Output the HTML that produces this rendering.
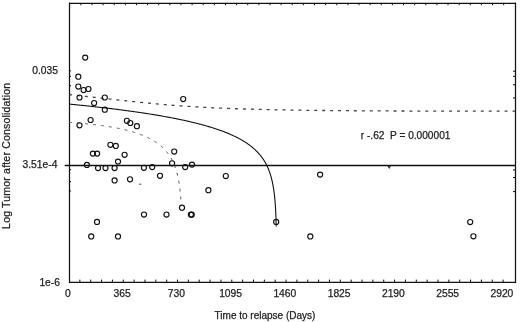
<!DOCTYPE html>
<html><head><meta charset="utf-8"><style>
html,body{margin:0;padding:0;background:#fff;}
svg{display:block;will-change:transform;}
text{font-family:"Liberation Sans",sans-serif;font-size:10.3px;fill:#222;stroke:#222;stroke-width:0.25px;white-space:pre;}
</style></head><body>
<svg width="520" height="322" viewBox="0 0 520 322">
<rect x="0" y="0" width="520" height="322" fill="#fff"/>
<g fill="none" stroke="#111">
<path d="M79.85 282v-2.4M90.71 282v-2.4M101.56 282v-2.4M112.41 282v-2.4M123.26 282v-2.4M134.12 282v-2.4M144.97 282v-2.4M155.82 282v-2.4M166.67 282v-2.4M177.53 282v-2.4M188.38 282v-2.4M199.23 282v-2.4M210.08 282v-2.4M220.94 282v-2.4M231.79 282v-2.4M242.64 282v-2.4M253.5 282v-2.4M264.35 282v-2.4M275.2 282v-2.4M286.05 282v-2.4M296.91 282v-2.4M307.76 282v-2.4M318.61 282v-2.4M329.46 282v-2.4M340.32 282v-2.4M351.17 282v-2.4M362.02 282v-2.4M372.87 282v-2.4M383.73 282v-2.4M394.58 282v-2.4M405.43 282v-2.4M416.29 282v-2.4M427.14 282v-2.4M437.99 282v-2.4M448.84 282v-2.4M459.7 282v-2.4M470.55 282v-2.4M481.4 282v-2.4M492.25 282v-2.4M503.11 282v-2.4M80.81 3v2.2M91.94 3v2.2M103.07 3v2.2M114.19 3v2.2M125.32 3v2.2M136.45 3v2.2M147.58 3v2.2M158.71 3v2.2M169.83 3v2.2M180.96 3v2.2M192.09 3v2.2M203.22 3v2.2M214.35 3v2.2M225.47 3v2.2M236.6 3v2.2M247.73 3v2.2M258.86 3v2.2M269.99 3v2.2M281.11 3v2.2M292.24 3v2.2M303.37 3v2.2M314.5 3v2.2M325.63 3v2.2M336.75 3v2.2M347.88 3v2.2M359.01 3v2.2M370.14 3v2.2M381.27 3v2.2M392.39 3v2.2M403.52 3v2.2M414.65 3v2.2M425.78 3v2.2M436.91 3v2.2M448.03 3v2.2M459.16 3v2.2M470.29 3v2.2M481.42 3v2.2M492.55 3v2.2M503.67 3v2.2M69 70.8h2M69 76.4h2M69 85.7h2M69 94.4h2M69 169.7h2M69 181.6h2M69 191h2M515 71.2h-2M515 76.3h-2M515 84.8h-2M515 98h-2M515 170h-2M515 177.6h-2M515 191.6h-2" stroke-width="1"/>
<path d="M69.5 2.6V282.7M68.9 3.3H516.1M515.5 2.6V282.7M68.9 282.3H516.1" stroke-width="1.25"/>
<path d="M64.7 165.5H515" stroke-width="1.6"/>
<path d="M69.00 104.07 L69.74 104.14 L70.49 104.21 L71.23 104.28 L71.97 104.36 L72.72 104.43 L73.46 104.50 L74.20 104.58 L74.95 104.65 L75.69 104.73 L76.43 104.80 L77.18 104.88 L77.92 104.95 L78.66 105.03 L79.41 105.10 L80.15 105.18 L80.89 105.26 L81.64 105.33 L82.38 105.41 L83.12 105.49 L83.87 105.57 L84.61 105.64 L85.35 105.72 L86.10 105.80 L86.84 105.88 L87.58 105.96 L88.33 106.04 L89.07 106.12 L89.81 106.20 L90.56 106.28 L91.30 106.36 L92.04 106.44 L92.79 106.52 L93.53 106.60 L94.27 106.69 L95.02 106.77 L95.76 106.85 L96.50 106.93 L97.25 107.02 L97.99 107.10 L98.73 107.19 L99.48 107.27 L100.22 107.36 L100.96 107.44 L101.71 107.53 L102.45 107.61 L103.19 107.70 L103.94 107.79 L104.68 107.87 L105.42 107.96 L106.17 108.05 L106.91 108.14 L107.65 108.22 L108.40 108.31 L109.14 108.40 L109.88 108.49 L110.63 108.58 L111.37 108.67 L112.11 108.76 L112.86 108.86 L113.60 108.95 L114.34 109.04 L115.09 109.13 L115.83 109.23 L116.57 109.32 L117.32 109.41 L118.06 109.51 L118.80 109.60 L119.55 109.70 L120.29 109.79 L121.03 109.89 L121.78 109.99 L122.52 110.08 L123.26 110.18 L124.01 110.28 L124.75 110.38 L125.49 110.48 L126.24 110.58 L126.98 110.68 L127.72 110.78 L128.47 110.88 L129.21 110.98 L129.95 111.08 L130.70 111.18 L131.44 111.29 L132.18 111.39 L132.93 111.49 L133.67 111.60 L134.41 111.70 L135.16 111.81 L135.90 111.92 L136.64 112.02 L137.39 112.13 L138.13 112.24 L138.87 112.35 L139.62 112.46 L140.36 112.57 L141.10 112.68 L141.85 112.79 L142.59 112.90 L143.33 113.01 L144.08 113.12 L144.82 113.24 L145.56 113.35 L146.31 113.47 L147.05 113.58 L147.79 113.70 L148.54 113.81 L149.28 113.93 L150.02 114.05 L150.77 114.17 L151.51 114.29 L152.25 114.41 L153.00 114.53 L153.74 114.65 L154.48 114.77 L155.23 114.90 L155.97 115.02 L156.71 115.15 L157.46 115.27 L158.20 115.40 L158.94 115.52 L159.69 115.65 L160.43 115.78 L161.17 115.91 L161.92 116.04 L162.66 116.17 L163.40 116.30 L164.15 116.44 L164.89 116.57 L165.63 116.71 L166.38 116.84 L167.12 116.98 L167.86 117.12 L168.61 117.25 L169.35 117.39 L170.09 117.53 L170.84 117.67 L171.58 117.82 L172.32 117.96 L173.07 118.10 L173.81 118.25 L174.55 118.40 L175.30 118.54 L176.04 118.69 L176.78 118.84 L177.53 118.99 L178.27 119.14 L179.01 119.30 L179.76 119.45 L180.50 119.61 L181.24 119.76 L181.99 119.92 L182.73 120.08 L183.47 120.24 L184.22 120.40 L184.96 120.57 L185.70 120.73 L186.45 120.90 L187.19 121.06 L187.93 121.23 L188.68 121.40 L189.42 121.57 L190.16 121.74 L190.91 121.92 L191.65 122.09 L192.39 122.27 L193.14 122.45 L193.88 122.63 L194.62 122.81 L195.37 123.00 L196.11 123.18 L196.85 123.37 L197.60 123.56 L198.34 123.75 L199.08 123.94 L199.83 124.13 L200.57 124.33 L201.31 124.53 L202.06 124.73 L202.80 124.93 L203.54 125.14 L204.29 125.34 L205.03 125.55 L205.77 125.76 L206.52 125.97 L207.26 126.19 L208.00 126.40 L208.75 126.62 L209.49 126.85 L210.23 127.07 L210.98 127.30 L211.72 127.53 L212.46 127.76 L213.21 127.99 L213.95 128.23 L214.69 128.47 L215.44 128.72 L216.18 128.96 L216.92 129.21 L217.67 129.47 L218.41 129.72 L219.15 129.98 L219.90 130.24 L220.64 130.51 L221.38 130.78 L222.13 131.05 L222.87 131.33 L223.61 131.61 L224.36 131.89 L225.10 132.18 L225.84 132.47 L226.59 132.77 L227.33 133.07 L228.07 133.38 L228.82 133.69 L229.56 134.01 L230.30 134.33 L231.05 134.65 L231.79 134.98 L232.53 135.32 L233.28 135.66 L234.02 136.01 L234.76 136.37 L235.51 136.73 L236.25 137.10 L236.99 137.47 L237.74 137.85 L238.48 138.24 L239.22 138.64 L239.97 139.04 L240.71 139.45 L241.45 139.87 L242.20 140.30 L242.94 140.74 L243.68 141.19 L244.43 141.65 L245.17 142.12 L245.76 142.51 L246.36 142.90 L246.95 143.30 L247.55 143.71 L248.14 144.12 L248.74 144.55 L249.33 144.98 L249.93 145.42 L250.52 145.88 L251.12 146.34 L251.71 146.81 L252.31 147.30 L252.90 147.80 L253.50 148.31 L254.09 148.83 L254.68 149.37 L255.28 149.92 L255.87 150.49 L256.47 151.07 L257.06 151.68 L257.66 152.30 L258.25 152.94 L258.85 153.60 L259.44 154.28 L260.04 154.99 L260.63 155.72 L261.08 156.29 L261.52 156.87 L261.97 157.47 L262.42 158.09 L262.86 158.73 L263.31 159.39 L263.75 160.07 L264.20 160.78 L264.65 161.51 L265.09 162.27 L265.54 163.06 L265.98 163.88 L266.43 164.74 L266.88 165.63 L267.32 166.57 L267.62 167.22 L267.92 167.89 L268.21 168.58 L268.51 169.30 L268.81 170.05 L269.11 170.82 L269.40 171.62 L269.70 172.46 L270.00 173.33 L270.29 174.25 L270.59 175.20 L270.89 176.21 L271.19 177.26 L271.48 178.38 L271.78 179.55 L272.08 180.81 L272.38 182.14 L272.52 182.85 L272.67 183.57 L272.82 184.33 L272.97 185.11 L273.12 185.93 L273.27 186.78 L273.42 187.67 L273.57 188.59 L273.71 189.57 L273.86 190.59 L274.01 191.67 L274.16 192.80 L274.31 194.01 L274.46 195.29 L274.61 196.66 L274.75 198.13 L274.90 199.71 L275.05 201.43 L275.20 203.31 L275.35 205.38 L275.50 207.69 L275.65 210.30 L275.80 213.29 L275.94 216.81 L276.09 221.07 L276.24 226.48" stroke-width="1.1"/>
<path d="M69.00 94.62 L69.74 94.70 L70.49 94.78 L71.23 94.86 L71.97 94.93 L72.72 95.01 L73.46 95.09 L74.20 95.17 L74.95 95.25 L75.69 95.33 L76.43 95.41 L77.18 95.49 L77.92 95.56 L78.66 95.64 L79.41 95.72 L80.15 95.80 L80.89 95.88 L81.64 95.96 L82.38 96.04 L83.12 96.12 L83.87 96.20 L84.61 96.28 L85.35 96.36 L86.10 96.44 L86.84 96.52 L87.58 96.60 L88.33 96.69 L89.07 96.77 L89.81 96.85 L90.56 96.93 L91.30 97.01 L92.04 97.09 L92.79 97.17 L93.53 97.25 L94.27 97.33 L95.02 97.42 L95.76 97.50 L96.50 97.58 L97.25 97.66 L97.99 97.74 L98.73 97.82 L99.48 97.91 L100.22 97.99 L100.96 98.07 L101.71 98.15 L102.45 98.23 L103.19 98.32 L103.94 98.40 L104.68 98.48 L105.42 98.56 L106.17 98.64 L106.91 98.73 L107.65 98.81 L108.40 98.89 L109.14 98.97 L109.88 99.05 L110.63 99.14 L111.37 99.22 L112.11 99.30 L112.86 99.38 L113.60 99.46 L114.34 99.54 L115.09 99.63 L115.83 99.71 L116.57 99.79 L117.32 99.87 L118.06 99.95 L118.80 100.03 L119.55 100.11 L120.29 100.19 L121.03 100.27 L121.78 100.36 L122.52 100.44 L123.26 100.52 L124.01 100.60 L124.75 100.68 L125.49 100.76 L126.24 100.84 L126.98 100.92 L127.72 101.00 L128.47 101.08 L129.21 101.16 L129.95 101.23 L130.70 101.31 L131.44 101.39 L132.18 101.47 L132.93 101.55 L133.67 101.63 L134.41 101.70 L135.16 101.78 L135.90 101.86 L136.64 101.94 L137.39 102.01 L138.13 102.09 L138.87 102.17 L139.62 102.24 L140.36 102.32 L141.10 102.39 L141.85 102.47 L142.59 102.54 L143.33 102.62 L144.08 102.69 L144.82 102.76 L145.56 102.84 L146.31 102.91 L147.05 102.98 L147.79 103.06 L148.54 103.13 L149.28 103.20 L150.02 103.27 L150.77 103.34 L151.51 103.41 L152.25 103.48 L153.00 103.55 L153.74 103.62 L154.48 103.69 L155.23 103.76 L155.97 103.83 L156.71 103.90 L157.46 103.97 L158.20 104.03 L158.94 104.10 L159.69 104.17 L160.43 104.23 L161.17 104.30 L161.92 104.36 L162.66 104.43 L163.40 104.49 L164.15 104.56 L164.89 104.62 L165.63 104.68 L166.38 104.74 L167.12 104.81 L167.86 104.87 L168.61 104.93 L169.35 104.99 L170.09 105.05 L170.84 105.11 L171.58 105.17 L172.32 105.23 L173.07 105.29 L173.81 105.35 L174.55 105.40 L175.30 105.46 L176.04 105.52 L176.78 105.57 L177.53 105.63 L178.27 105.68 L179.01 105.74 L179.76 105.79 L180.50 105.85 L181.24 105.90 L181.99 105.95 L182.73 106.01 L183.47 106.06 L184.22 106.11 L184.96 106.16 L185.70 106.21 L186.45 106.26 L187.19 106.31 L187.93 106.36 L188.68 106.41 L189.42 106.46 L190.16 106.51 L190.91 106.55 L191.65 106.60 L192.39 106.65 L193.14 106.69 L193.88 106.74 L194.62 106.79 L195.37 106.83 L196.11 106.88 L196.85 106.92 L197.60 106.96 L198.34 107.01 L199.08 107.05 L199.83 107.09 L200.57 107.13 L201.31 107.18 L202.06 107.22 L202.80 107.26 L203.54 107.30 L204.29 107.34 L205.03 107.38 L205.77 107.42 L206.52 107.46 L207.26 107.49 L208.00 107.53 L208.75 107.57 L209.49 107.61 L210.23 107.64 L210.98 107.68 L211.72 107.72 L212.46 107.75 L213.21 107.79 L213.95 107.82 L214.69 107.86 L215.44 107.89 L216.18 107.93 L216.92 107.96 L217.67 107.99 L218.41 108.03 L219.15 108.06 L219.90 108.09 L220.64 108.13 L221.38 108.16 L222.13 108.19 L222.87 108.22 L223.61 108.25 L224.36 108.28 L225.10 108.31 L225.84 108.34 L226.59 108.37 L227.33 108.40 L228.07 108.43 L228.82 108.46 L229.56 108.49 L230.30 108.51 L231.05 108.54 L231.79 108.57 L232.53 108.60 L233.28 108.62 L234.02 108.65 L234.76 108.68 L235.51 108.70 L236.25 108.73 L236.99 108.75 L237.74 108.78 L238.48 108.80 L239.22 108.83 L239.97 108.85 L240.71 108.88 L241.45 108.90 L242.20 108.93 L242.94 108.95 L243.68 108.97 L244.43 109.00 L245.17 109.02 L245.91 109.04 L246.66 109.06 L247.40 109.09 L248.14 109.11 L248.89 109.13 L249.63 109.15 L250.37 109.17 L251.12 109.19 L251.86 109.21 L252.60 109.23 L253.35 109.25 L254.09 109.27 L254.83 109.29 L255.58 109.31 L256.32 109.33 L257.06 109.35 L257.81 109.37 L258.55 109.39 L259.29 109.41 L260.04 109.43 L260.78 109.45 L261.52 109.47 L262.27 109.48 L263.01 109.50 L263.75 109.52 L264.50 109.54 L265.24 109.55 L265.98 109.57 L266.73 109.59 L267.47 109.61 L268.21 109.62 L268.96 109.64 L269.70 109.65 L270.44 109.67 L271.19 109.69 L271.93 109.70 L272.67 109.72 L273.42 109.73 L274.16 109.75 L274.90 109.76 L275.65 109.78 L276.39 109.79 L277.13 109.81 L277.88 109.82 L278.62 109.84 L279.36 109.85 L280.11 109.87 L280.85 109.88 L281.59 109.89 L282.34 109.91 L283.08 109.92 L283.82 109.94 L284.57 109.95 L285.31 109.96 L286.05 109.98 L286.80 109.99 L287.54 110.00 L288.28 110.01 L289.03 110.03 L289.77 110.04 L290.51 110.05 L291.26 110.06 L292.00 110.08 L292.74 110.09 L293.49 110.10 L294.23 110.11 L294.97 110.12 L295.72 110.13 L296.46 110.15 L297.20 110.16 L297.95 110.17 L298.69 110.18 L299.43 110.19 L300.18 110.20 L300.92 110.21 L301.66 110.22 L302.41 110.23 L303.15 110.24 L303.89 110.25 L304.64 110.26 L305.38 110.27 L306.12 110.29 L306.87 110.30 L307.61 110.30 L308.35 110.31 L309.10 110.32 L309.84 110.33 L310.58 110.34 L311.33 110.35 L312.07 110.36 L312.81 110.37 L313.56 110.38 L314.30 110.39 L315.04 110.40 L315.79 110.41 L316.53 110.42 L317.27 110.42 L318.02 110.43 L318.76 110.44 L319.50 110.45 L320.25 110.46 L320.99 110.47 L321.73 110.48 L322.48 110.48 L323.22 110.49 L323.96 110.50 L324.71 110.51 L325.45 110.51 L326.19 110.52 L326.94 110.53 L327.68 110.54 L328.42 110.55 L329.17 110.55 L329.91 110.56 L330.65 110.57 L331.40 110.57 L332.14 110.58 L332.88 110.59 L333.63 110.60 L334.37 110.60 L335.11 110.61 L335.86 110.62 L336.60 110.62 L337.34 110.63 L338.09 110.64 L338.83 110.64 L339.57 110.65 L340.32 110.66 L341.06 110.66 L341.80 110.67 L342.55 110.68 L343.29 110.68 L344.03 110.69 L344.78 110.69 L345.52 110.70 L346.26 110.71 L347.01 110.71 L347.75 110.72 L348.49 110.72 L349.24 110.73 L349.98 110.73 L350.72 110.74 L351.47 110.75 L352.21 110.75 L352.95 110.76 L353.70 110.76 L354.44 110.77 L355.18 110.77 L355.93 110.78 L356.67 110.78 L357.41 110.79 L358.16 110.79 L358.90 110.80 L359.64 110.80 L360.39 110.81 L361.13 110.81 L361.87 110.82 L362.62 110.82 L363.36 110.83 L364.10 110.83 L364.85 110.84 L365.59 110.84 L366.33 110.85 L367.08 110.85 L367.82 110.85 L368.56 110.86 L369.31 110.86 L370.05 110.87 L370.79 110.87 L371.54 110.88 L372.28 110.88 L373.02 110.88 L373.77 110.89 L374.51 110.89 L375.25 110.90 L376.00 110.90 L376.74 110.90 L377.48 110.91 L378.23 110.91 L378.97 110.92 L379.71 110.92 L380.46 110.92 L381.20 110.93 L381.94 110.93 L382.69 110.93 L383.43 110.94 L384.17 110.94 L384.92 110.94 L385.66 110.95 L386.40 110.95 L387.15 110.95 L387.89 110.96 L388.63 110.96 L389.38 110.96 L390.12 110.97 L390.86 110.97 L391.61 110.97 L392.35 110.98 L393.09 110.98 L393.84 110.98 L394.58 110.99 L395.32 110.99 L396.07 110.99 L396.81 110.99 L397.55 111.00 L398.30 111.00 L399.04 111.00 L399.78 111.01 L400.53 111.01 L401.27 111.01 L402.01 111.01 L402.76 111.02 L403.50 111.02 L404.24 111.02 L404.99 111.02 L405.73 111.03 L406.47 111.03 L407.22 111.03 L407.96 111.03 L408.70 111.04 L409.45 111.04 L410.19 111.04 L410.93 111.04 L411.68 111.05 L412.42 111.05 L413.16 111.05 L413.91 111.05 L414.65 111.06 L415.39 111.06 L416.14 111.06 L416.88 111.06 L417.62 111.06 L418.37 111.07 L419.11 111.07 L419.85 111.07 L420.60 111.07 L421.34 111.07 L422.08 111.08 L422.83 111.08 L423.57 111.08 L424.31 111.08 L425.06 111.08 L425.80 111.08 L426.54 111.09 L427.29 111.09 L428.03 111.09 L428.77 111.09 L429.52 111.09 L430.26 111.09 L431.00 111.10 L431.75 111.10 L432.49 111.10 L433.23 111.10 L433.98 111.10 L434.72 111.10 L435.46 111.11 L436.21 111.11 L436.95 111.11 L437.69 111.11 L438.44 111.11 L439.18 111.11 L439.92 111.11 L440.67 111.12 L441.41 111.12 L442.15 111.12 L442.90 111.12 L443.64 111.12 L444.38 111.12 L445.13 111.12 L445.87 111.12 L446.61 111.13 L447.36 111.13 L448.10 111.13 L448.84 111.13 L449.59 111.13 L450.33 111.13 L451.07 111.13 L451.82 111.13 L452.56 111.13 L453.30 111.13 L454.05 111.14 L454.79 111.14 L455.53 111.14 L456.28 111.14 L457.02 111.14 L457.76 111.14 L458.51 111.14 L459.25 111.14 L459.99 111.14 L460.74 111.14 L461.48 111.14 L462.22 111.15 L462.97 111.15 L463.71 111.15 L464.45 111.15 L465.20 111.15 L465.94 111.15 L466.68 111.15 L467.43 111.15 L468.17 111.15 L468.91 111.15 L469.66 111.15 L470.40 111.15 L471.14 111.15 L471.89 111.15 L472.63 111.15 L473.37 111.15 L474.12 111.15 L474.86 111.16 L475.60 111.16 L476.35 111.16 L477.09 111.16 L477.83 111.16 L478.58 111.16 L479.32 111.16 L480.06 111.16 L480.81 111.16 L481.55 111.16 L482.29 111.16 L483.04 111.16 L483.78 111.16 L484.52 111.16 L485.27 111.16 L486.01 111.16 L486.75 111.16 L487.50 111.16 L488.24 111.16 L488.98 111.16 L489.73 111.16 L490.47 111.16 L491.21 111.16 L491.96 111.16 L492.70 111.16 L493.44 111.16 L494.19 111.16 L494.93 111.16 L495.67 111.16 L496.42 111.16 L497.16 111.16 L497.90 111.16 L498.65 111.16 L499.39 111.16 L500.13 111.16 L500.88 111.16 L501.62 111.16 L502.36 111.16 L503.11 111.16 L503.85 111.16 L504.59 111.16 L505.34 111.16 L506.08 111.16 L506.82 111.16 L507.57 111.16 L508.31 111.16 L509.05 111.16 L509.80 111.16 L510.54 111.16 L511.28 111.16 L512.03 111.16 L512.77 111.16 L513.51 111.16 L514.26 111.16 L515.00 111.16" stroke="#444" stroke-width="1.3" stroke-dasharray="3 4.930" stroke-dashoffset="7.840"/>
<path d="M69.00 122.38 L69.74 122.43 L70.49 122.48 L71.23 122.54 L71.97 122.59 L72.72 122.64 L73.46 122.70 L74.20 122.76 L74.95 122.81 L75.69 122.87 L76.43 122.93 L77.18 122.99 L77.92 123.05 L78.66 123.11 L79.41 123.17 L80.15 123.24 L80.89 123.30 L81.64 123.37 L82.38 123.43 L83.12 123.50 L83.87 123.57 L84.61 123.64 L85.35 123.71 L86.10 123.78 L86.84 123.85 L87.58 123.92 L88.33 124.00 L89.07 124.07 L89.81 124.15 L90.56 124.23 L91.30 124.31 L92.04 124.39 L92.79 124.47 L93.53 124.56 L94.27 124.64 L95.02 124.73 L95.76 124.81 L96.50 124.90 L97.25 124.99 L97.99 125.09 L98.73 125.18 L99.48 125.27 L100.22 125.37 L100.96 125.47 L101.71 125.57 L102.45 125.67 L103.19 125.77 L103.94 125.88 L104.68 125.99 L105.42 126.10 L106.17 126.21 L106.91 126.32 L107.65 126.43 L108.40 126.55 L109.14 126.67 L109.88 126.79 L110.63 126.91 L111.37 127.04 L112.11 127.17 L112.86 127.29 L113.60 127.43 L114.34 127.56 L115.09 127.70 L115.83 127.84 L116.57 127.98 L117.32 128.13 L118.06 128.27 L118.80 128.42 L119.55 128.58 L120.29 128.73 L121.03 128.89 L121.78 129.06 L122.52 129.22 L123.26 129.39 L124.01 129.56 L124.75 129.74 L125.49 129.92 L126.24 130.10 L126.98 130.29 L127.72 130.48 L128.47 130.67 L129.21 130.87 L129.95 131.07 L130.70 131.28 L131.44 131.49 L132.18 131.71 L132.93 131.93 L133.67 132.15 L134.41 132.38 L135.16 132.62 L135.90 132.86 L136.64 133.10 L137.39 133.36 L138.13 133.61 L138.87 133.88 L139.62 134.15 L140.36 134.42 L141.10 134.71 L141.85 135.00 L142.59 135.29 L143.33 135.60 L144.08 135.91 L144.82 136.23 L145.56 136.56 L146.31 136.89 L147.05 137.24 L147.79 137.60 L148.54 137.96 L149.28 138.34 L150.02 138.72 L150.77 139.12 L151.51 139.53 L152.25 139.95 L153.00 140.38 L153.74 140.83 L154.48 141.29 L155.23 141.77 L155.82 142.16 L156.42 142.56 L157.01 142.98 L157.61 143.40 L158.20 143.84 L158.79 144.29 L159.39 144.75 L159.98 145.23 L160.58 145.72 L161.17 146.23 L161.77 146.76 L162.36 147.30 L162.96 147.86 L163.55 148.44 L164.15 149.04 L164.74 149.66 L165.34 150.31 L165.93 150.98 L166.53 151.68 L167.12 152.41 L167.57 152.97 L168.01 153.56 L168.46 154.17 L168.90 154.79 L169.35 155.44 L169.80 156.12 L170.24 156.82 L170.69 157.55 L171.13 158.31 L171.58 159.10 L172.03 159.93 L172.47 160.80 L172.92 161.71 L173.36 162.67 L173.66 163.34 L173.96 164.03 L174.26 164.74 L174.55 165.49 L174.85 166.27 L175.15 167.08 L175.45 167.92 L175.74 168.81 L176.04 169.74 L176.34 170.71 L176.63 171.74 L176.93 172.82 L177.23 173.97 L177.53 175.20 L177.82 176.50 L178.12 177.90 L178.27 178.64 L178.42 179.40 L178.57 180.20 L178.72 181.04 L178.86 181.91 L179.01 182.82 L179.16 183.77 L179.31 184.77 L179.46 185.83 L179.61 186.94 L179.76 188.12 L179.91 189.38 L180.05 190.72 L180.20 192.16 L180.35 193.71 L180.50 195.40 L180.65 197.24 L180.80 199.26" stroke="#555" stroke-width="1.0" stroke-dasharray="3 5.000" stroke-dashoffset="7.940"/>
<path d="M139 184.2h2.5" stroke="#555" stroke-width="1"/>
<path d="M387.3 165.8h3.8l-1.9 3.3z" fill="#111" stroke="none"/><circle cx="389.2" cy="166.9" r="0.7" fill="#888" stroke="none"/>
</g>
<g fill="none" stroke="#111" stroke-width="1.15">
<circle cx="85.2" cy="57.6" r="2.55"/>
<circle cx="78.3" cy="76.7" r="2.55"/>
<circle cx="78.3" cy="86.6" r="2.55"/>
<circle cx="83.6" cy="90.1" r="2.55"/>
<circle cx="88.4" cy="89.0" r="2.55"/>
<circle cx="79.5" cy="97.5" r="2.55"/>
<circle cx="104.8" cy="97.5" r="2.55"/>
<circle cx="94.1" cy="103.0" r="2.55"/>
<circle cx="104.8" cy="109.7" r="2.55"/>
<circle cx="90.6" cy="120.0" r="2.55"/>
<circle cx="79.5" cy="125.3" r="2.55"/>
<circle cx="126.9" cy="120.8" r="2.55"/>
<circle cx="130.3" cy="123.0" r="2.55"/>
<circle cx="136.9" cy="126.2" r="2.55"/>
<circle cx="110.4" cy="144.8" r="2.55"/>
<circle cx="115.8" cy="145.9" r="2.55"/>
<circle cx="92.9" cy="153.6" r="2.55"/>
<circle cx="97.1" cy="153.6" r="2.55"/>
<circle cx="124.6" cy="154.8" r="2.55"/>
<circle cx="118.0" cy="161.6" r="2.55"/>
<circle cx="86.9" cy="164.9" r="2.55"/>
<circle cx="98.0" cy="168.0" r="2.55"/>
<circle cx="105.5" cy="168.0" r="2.55"/>
<circle cx="114.6" cy="168.0" r="2.55"/>
<circle cx="143.9" cy="167.8" r="2.55"/>
<circle cx="114.6" cy="180.4" r="2.55"/>
<circle cx="130.0" cy="179.3" r="2.55"/>
<circle cx="97.0" cy="221.9" r="2.55"/>
<circle cx="91.2" cy="236.4" r="2.55"/>
<circle cx="118.0" cy="236.4" r="2.55"/>
<circle cx="144.0" cy="214.5" r="2.55"/>
<circle cx="183.2" cy="99.1" r="2.55"/>
<circle cx="174.2" cy="151.5" r="2.55"/>
<circle cx="152.2" cy="167.1" r="2.55"/>
<circle cx="172.1" cy="163.3" r="2.55"/>
<circle cx="185.2" cy="167.1" r="2.55"/>
<circle cx="192.0" cy="164.6" r="2.55"/>
<circle cx="160.0" cy="175.8" r="2.55"/>
<circle cx="208.4" cy="190.2" r="2.55"/>
<circle cx="166.5" cy="214.5" r="2.55"/>
<circle cx="182.0" cy="207.7" r="2.55"/>
<circle cx="190.9" cy="214.6" r="2.55"/>
<circle cx="191.7" cy="214.7" r="2.55"/>
<circle cx="225.8" cy="176.0" r="2.55"/>
<circle cx="276.2" cy="221.9" r="2.55"/>
<circle cx="320.1" cy="174.6" r="2.55"/>
<circle cx="310.3" cy="236.4" r="2.55"/>
<circle cx="470.2" cy="222.0" r="2.55"/>
<circle cx="473.4" cy="236.3" r="2.55"/>
</g>
<g>
<text x="67.8" y="297" text-anchor="middle">0</text><text x="122.06" y="297" text-anchor="middle">365</text><text x="176.33" y="297" text-anchor="middle">730</text><text x="230.59" y="297" text-anchor="middle">1095</text><text x="284.85" y="297" text-anchor="middle">1460</text><text x="339.12" y="297" text-anchor="middle">1825</text><text x="393.38" y="297" text-anchor="middle">2190</text><text x="447.64" y="297" text-anchor="middle">2555</text><text x="501.91" y="297" text-anchor="middle">2920</text>
<text x="58" y="73.5" text-anchor="end">0.035</text>
<text x="57.4" y="167.6" text-anchor="end">3.51e-4</text>
<text x="60" y="285.6" text-anchor="end">1e-6</text>
<text x="360.8" y="139.4" xml:space="preserve" style="font-size:10.15px">r -.62  P = 0.000001</text>
<text x="265" y="318.5" text-anchor="middle" style="font-size:10px">Time to relapse (Days)</text>
<text transform="translate(10.4 155.8) rotate(-90)" text-anchor="middle" style="font-size:10.5px;letter-spacing:0.19px">Log Tumor after Consolidation</text>
</g>
</svg>
</body></html>
